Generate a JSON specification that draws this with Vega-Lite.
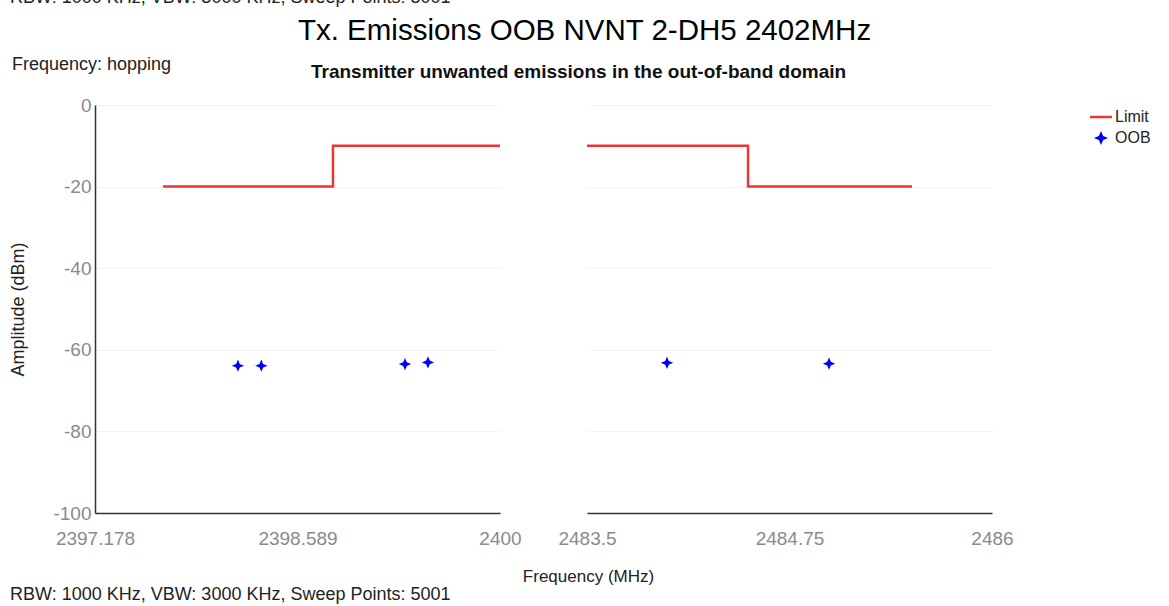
{
  "$schema": "https://vega.github.io/schema/vega-lite/v6.json",
  "padding": {"left": 9, "top": -12, "right": 5, "bottom": 4},
  "background": "white",
  "config": {
    "font": "Liberation Sans",
    "view": {"stroke": null},
    "axis": {
      "labelFont": "Liberation Sans",
      "labelColor": "#8a8a8a",
      "labelFontSize": 19,
      "domainColor": "#333333",
      "domainWidth": 1.5,
      "ticks": false,
      "grid": false,
      "titleFont": "Liberation Sans",
      "titleFontWeight": "normal",
      "titleColor": "#222222",
      "titleFontSize": 17
    },
    "title": {"font": "Liberation Sans"}
  },
  "datasets": {
    "limit": [
      {"panel": "L", "i": 1, "freq": 2397.652, "amp": -20, "series": "Limit"},
      {"panel": "L", "i": 2, "freq": 2398.836, "amp": -20, "series": "Limit"},
      {"panel": "L", "i": 3, "freq": 2398.836, "amp": -10, "series": "Limit"},
      {"panel": "L", "i": 4, "freq": 2400.0, "amp": -10, "series": "Limit"},
      {"panel": "R", "i": 1, "freq": 2483.5, "amp": -10, "series": "Limit"},
      {"panel": "R", "i": 2, "freq": 2484.494, "amp": -10, "series": "Limit"},
      {"panel": "R", "i": 3, "freq": 2484.494, "amp": -20, "series": "Limit"},
      {"panel": "R", "i": 4, "freq": 2485.506, "amp": -20, "series": "Limit"}
    ],
    "oob": [
      {"panel": "L", "freq": 2398.174, "amp": -63.9, "series": "OOB"},
      {"panel": "L", "freq": 2398.337, "amp": -63.9, "series": "OOB"},
      {"panel": "L", "freq": 2399.338, "amp": -63.5, "series": "OOB"},
      {"panel": "L", "freq": 2399.498, "amp": -63.1, "series": "OOB"},
      {"panel": "R", "freq": 2483.994, "amp": -63.2, "series": "OOB"},
      {"panel": "R", "freq": 2484.994, "amp": -63.4, "series": "OOB"}
    ]
  },
  "title": {
    "text": "RBW: 1000 KHz,  VBW: 3000 KHz,  Sweep Points: 5001",
    "orient": "top",
    "anchor": "start",
    "fontSize": 18,
    "fontWeight": "normal",
    "color": "#222222",
    "offset": 9
  },
  "vconcat": [
    {
      "title": {
        "text": "RBW: 1000 KHz,  VBW: 3000 KHz,  Sweep Points: 5001",
        "orient": "bottom",
        "anchor": "start",
        "fontSize": 18,
        "fontWeight": "normal",
        "color": "#222222",
        "offset": 2
      },
      "vconcat": [
        {
          "title": {
            "text": "Tx. Emissions OOB NVNT 2-DH5 2402MHz",
            "anchor": "middle",
            "fontSize": 29.5,
            "fontWeight": "normal",
            "color": "#000000",
            "offset": 10,
            "dx": 73
          },
          "bounds": "flush",
          "spacing": 87,
          "resolve": {"scale": {"color": "shared", "x": "independent", "y": "shared"}},
          "hconcat": [
            {
              "width": 405,
              "height": 408,
              "title": {
                "text": "Transmitter unwanted emissions in the out-of-band domain",
                "anchor": "start",
                "dx": 301,
                "fontSize": 19,
                "fontWeight": "bold",
                "color": "#111111",
                "offset": 14
              },
              "layer": [
                {
                  "data": {"name": "limit"},
                  "transform": [{"filter": "datum.panel === 'L'"}],
                  "mark": {"type": "line", "strokeWidth": 2.5},
                  "encoding": {
                    "x": {
                      "field": "freq", "type": "quantitative",
                      "scale": {"domain": [2397.178, 2400], "nice": false, "zero": false},
                      "axis": {
                        "values": [2397.178, 2398.589, 2400],
                        "labelExpr": "'' + datum.value",
                        "labelPadding": 16,
                        "labelFlush": false,
                        "title": "Frequency (MHz)",
                        "titleX": 493,
                        "titleY": 55,
                        "titleAlign": "center"
                      }
                    },
                    "y": {
                      "field": "amp", "type": "quantitative",
                      "scale": {"domain": [-100, 0], "nice": false, "zero": false},
                      "axis": {
                        "values": [0, -20, -40, -60, -80, -100],
                        "labelExpr": "'' + datum.value",
                        "title": "Amplitude (dBm)",
                        "titleFontSize": 18,
                        "titlePadding": 25,
                        "labelPadding": 4,
                        "grid": true,
                        "gridColor": "#f4f4f4",
                        "gridWidth": 1
                      }
                    },
                    "color": {
                      "field": "series", "type": "nominal",
                      "scale": {"domain": ["Limit", "OOB"], "range": ["#ee3535", "#0000ff"]},
                      "legend": {
                        "title": null,
                        "orient": "none",
                        "legendX": 998,
                        "legendY": 4,
                        "labelFontSize": 16,
                        "labelColor": "#222222",
                        "labelFont": "Liberation Sans",
                        "symbolSize": 480,
                        "symbolStrokeWidth": 2.5,
                        "rowPadding": 4,
                        "labelOffset": 6,
                        "encode": {
                          "symbols": {
                            "update": {
                              "shape": {"signal": "datum.value === 'Limit' ? 'stroke' : 'M0,-1L0.3,-0.3L1,0L0.3,0.3L0,1L-0.3,0.3L-1,0L-0.3,-0.3Z'"},
                              "size": {"signal": "datum.value === 'Limit' ? 480 : 60"},
                              "stroke": {"signal": "datum.value === 'Limit' ? '#cc1f1f' : 'transparent'"},
                              "fill": {"signal": "datum.value === 'Limit' ? 'transparent' : '#0000ff'"},
                              "strokeWidth": {"value": 2.5}
                            }
                          }
                        }
                      }
                    },
                    "order": {"field": "i", "type": "quantitative"}
                  }
                },
                {
                  "data": {"name": "oob"},
                  "transform": [{"filter": "datum.panel === 'L'"}],
                  "mark": {"type": "point", "filled": true, "opacity": 1, "size": 150, "shape": "M0,-1L0.3,-0.3L1,0L0.3,0.3L0,1L-0.3,0.3L-1,0L-0.3,-0.3Z"},
                  "encoding": {
                    "x": {"field": "freq", "type": "quantitative"},
                    "y": {"field": "amp", "type": "quantitative"},
                    "color": {"field": "series", "type": "nominal"}
                  }
                }
              ]
            },
            {
              "width": 405,
              "height": 408,
              "title": {
                "text": "Frequency: hopping",
                "anchor": "start",
                "dx": -546,
                "fontSize": 18,
                "fontWeight": "normal",
                "color": "#222222",
                "offset": 31
              },
              "layer": [
                {
                  "data": {"name": "limit"},
                  "transform": [{"filter": "datum.panel === 'R'"}],
                  "mark": {"type": "line", "strokeWidth": 2.5},
                  "encoding": {
                    "x": {
                      "field": "freq", "type": "quantitative",
                      "scale": {"domain": [2483.5, 2486], "nice": false, "zero": false},
                      "axis": {
                        "values": [2483.5, 2484.75, 2486],
                        "labelExpr": "'' + datum.value",
                        "labelPadding": 16,
                        "labelFlush": false,
                        "title": null
                      }
                    },
                    "y": {
                      "field": "amp", "type": "quantitative",
                      "axis": {
                        "values": [0, -20, -40, -60, -80, -100],
                        "title": null,
                        "labels": false,
                        "domain": false,
                        "grid": true,
                        "gridColor": "#f4f4f4",
                        "gridWidth": 1
                      }
                    },
                    "color": {"field": "series", "type": "nominal"},
                    "order": {"field": "i", "type": "quantitative"}
                  }
                },
                {
                  "data": {"name": "oob"},
                  "transform": [{"filter": "datum.panel === 'R'"}],
                  "mark": {"type": "point", "filled": true, "opacity": 1, "size": 150, "shape": "M0,-1L0.3,-0.3L1,0L0.3,0.3L0,1L-0.3,0.3L-1,0L-0.3,-0.3Z"},
                  "encoding": {
                    "x": {"field": "freq", "type": "quantitative"},
                    "y": {"field": "amp", "type": "quantitative"},
                    "color": {"field": "series", "type": "nominal"}
                  }
                }
              ]
            }
          ]
        }
      ]
    }
  ]
}
